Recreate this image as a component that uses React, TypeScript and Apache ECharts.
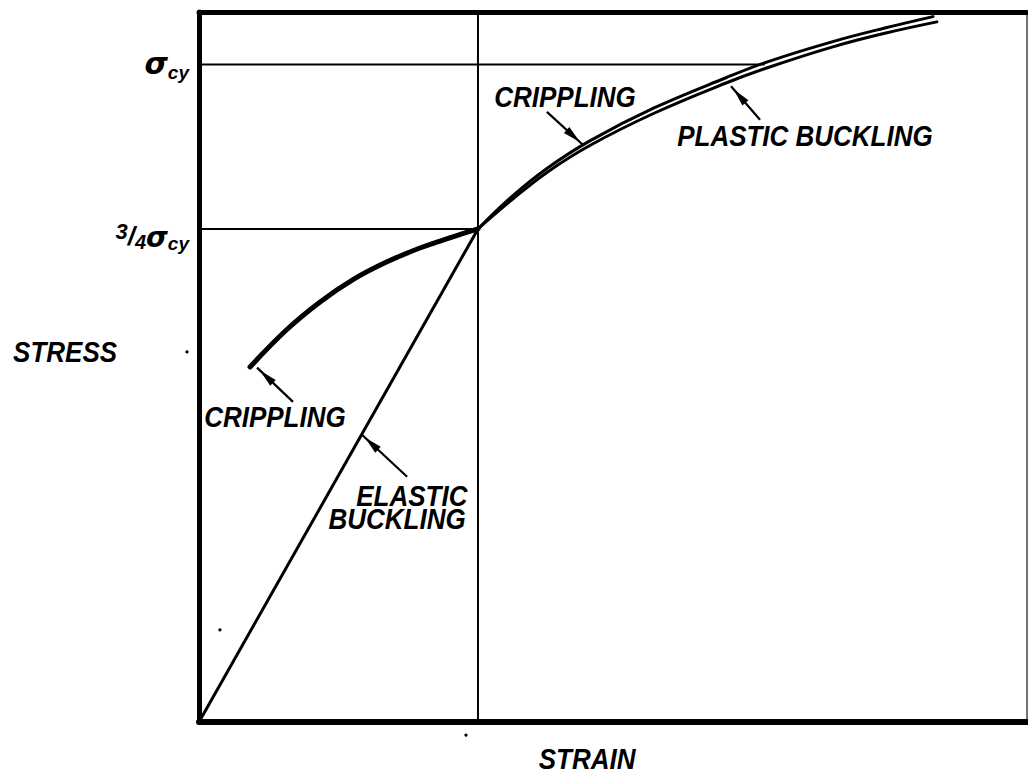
import React, { useEffect, useRef } from "react";
import * as echarts from "echarts";

// Strain in units of the strain at 3/4 sigma_cy; stress in units of sigma_cy
const strainRange = [0, 2.968];
const stressRange = [0, 1.08];

const elasticBuckling: number[][] = [
  [0, 0],
  [1, 0.75],
];
const cripplingLow: number[][] = [
  [0.183, 0.54],
  [0.315, 0.597],
  [0.434, 0.639],
  [0.552, 0.673],
  [0.674, 0.7],
  [0.792, 0.721],
  [0.91, 0.738],
  [1, 0.75],
];
const cripplingHigh: number[][] = [
  [1, 0.75],
  [1.118, 0.798],
  [1.247, 0.842],
  [1.401, 0.884],
  [1.631, 0.934],
  [1.889, 0.98],
  [2.043, 1.005],
  [2.272, 1.035],
  [2.462, 1.056],
  [2.631, 1.073],
];
const plasticBuckling: number[][] = [
  [1, 0.75],
  [1.118, 0.793],
  [1.247, 0.836],
  [1.401, 0.877],
  [1.631, 0.926],
  [1.889, 0.972],
  [2.043, 0.996],
  [2.272, 1.027],
  [2.462, 1.048],
  [2.645, 1.065],
];
const sigmaCyLine: number[][] = [
  [0, 1],
  [2.025, 1],
];
const threeQuarterLine: number[][] = [
  [0, 0.75],
  [1, 0.75],
];
const strainMarker: number[][] = [
  [1, 0],
  [1, 1.08],
];

const stressTickValues = [0.75, 1];

const leaders = [
  { from: [0.337, 0.487], to: [0.208, 0.539] },
  { from: [0.746, 0.373], to: [0.584, 0.437] },
  { from: [1.247, 0.928], to: [1.376, 0.878] },
  { from: [2.011, 0.916], to: [1.907, 0.967] },
];

const annotations = [
  { text: "CRIPPLING", at: [1.312, 0.951] },
  { text: "PLASTIC BUCKLING", at: [2.172, 0.892] },
  { text: "CRIPPLING", at: [0.272, 0.464] },
  { text: "ELASTIC", at: [0.763, 0.344] },
  { text: "BUCKLING", at: [0.71, 0.309] },
];

const axisTitles = [
  { text: "STRESS", at: [-0.48, 0.563] },
  { text: "STRAIN", at: [1.391, -0.056] },
];

const specks: number[][] = [
  [-0.043, 0.563],
  [0.957, -0.02],
  [0.075, 0.14],
];

const FONT = "'Liberation Sans', Arial, sans-serif";

const richBase = {
  fontFamily: FONT,
  fontWeight: "bold",
  fontStyle: "italic",
  color: "#000",
};

export default function App() {
  const ref = useRef<HTMLDivElement>(null);
  useEffect(() => {
    const chart = echarts.init(ref.current!, null, { renderer: "svg" });
    const lineSeries = (data: number[][], width: number, smooth: boolean | number = false) => ({
      type: "line",
      data,
      smooth,
      showSymbol: false,
      symbol: "none",
      silent: true,
      clip: false,
      lineStyle: { color: "#000", width, cap: "round", join: "round" },
    });
    chart.setOption({
      animation: false,
      backgroundColor: "#fff",
      grid: { left: 199, top: 12, right: 1, bottom: 54, containLabel: false },
      xAxis: [
        {
          type: "value",
          min: strainRange[0],
          max: strainRange[1],
          position: "bottom",
          axisLine: { show: true, onZero: false, lineStyle: { color: "#000", width: 6 } },
          axisTick: { show: false },
          axisLabel: { show: false },
          splitLine: { show: false },
        },
        {
          type: "value",
          min: strainRange[0],
          max: strainRange[1],
          position: "top",
          axisLine: { show: true, onZero: false, lineStyle: { color: "#000", width: 5 } },
          axisTick: { show: false },
          axisLabel: { show: false },
          splitLine: { show: false },
        },
      ],
      yAxis: [
        {
          type: "value",
          min: stressRange[0],
          max: stressRange[1],
          interval: 0.25,
          position: "left",
          axisLine: { show: true, onZero: false, lineStyle: { color: "#000", width: 5 } },
          axisTick: { show: false },
          splitLine: { show: false },
          axisLabel: {
            show: true,
            margin: 10,
            showMaxLabel: false,
            formatter: (v: number) => {
              if (Math.abs(v - stressTickValues[1]) < 1e-6) return "{s|σ}{sub|cy}";
              if (Math.abs(v - stressTickValues[0]) < 1e-6)
                return "{sup|3}{sl|/}{dn|4}{s2|σ}{sub2|cy}";
              return "";
            },
            rich: {
              s: {
                ...richBase,
                fontSize: 30,
                fontFamily: "'DejaVu Sans', sans-serif",
                padding: [0, 0, 2, 0],
              },
              sub: { ...richBase, fontSize: 19, padding: [16, 0, 0, 0] },
              sup: { ...richBase, fontSize: 22, padding: [6, 0, 0, 0] },
              sl: { ...richBase, fontSize: 26, padding: [14, 0, 0, 0] },
              dn: { ...richBase, fontSize: 20, padding: [26, 0, 0, 0] },
              s2: {
                ...richBase,
                fontSize: 28,
                fontFamily: "'DejaVu Sans', sans-serif",
                padding: [18, 0, 0, 0],
              },
              sub2: { ...richBase, fontSize: 19, padding: [30, 0, 0, 0] },
            },
          },
        },
        {
          type: "value",
          min: stressRange[0],
          max: stressRange[1],
          position: "right",
          axisLine: { show: true, onZero: false, lineStyle: { color: "#444", width: 1.5 } },
          axisTick: { show: false },
          axisLabel: { show: false },
          splitLine: { show: false },
        },
      ],
      series: [
        lineSeries(sigmaCyLine, 2),
        lineSeries(threeQuarterLine, 2),
        lineSeries(strainMarker, 2),
        lineSeries(elasticBuckling, 3),
        lineSeries(cripplingLow, 5, 0.4),
        lineSeries(cripplingHigh, 3, 0.4),
        lineSeries(plasticBuckling, 3, 0.4),
      ],
    });

    const px = (p: number[]) => chart.convertToPixel({ gridIndex: 0 }, p) as number[];
    const graphics: any[] = [];
    leaders.forEach((l) => {
      const a = px(l.from);
      const b = px(l.to);
      const dx = a[0] - b[0];
      const dy = a[1] - b[1];
      const len = Math.hypot(dx, dy);
      const ux = dx / len;
      const uy = dy / len;
      const nx = -uy;
      const ny = ux;
      graphics.push({
        type: "line",
        shape: { x1: a[0], y1: a[1], x2: b[0], y2: b[1] },
        style: { stroke: "#000", lineWidth: 2.2 },
        silent: true,
      });
      const tip = [b[0] + ux * 4, b[1] + uy * 4];
      const base = [b[0] + ux * 22, b[1] + uy * 22];
      const w = 4;
      graphics.push({
        type: "polygon",
        shape: {
          points: [tip, [base[0] + nx * w, base[1] + ny * w], [base[0] - nx * w, base[1] - ny * w]],
        },
        style: { fill: "#000" },
        silent: true,
      });
    });
    const textEl = (t: { text: string; at: number[] }) => {
      const p = px(t.at);
      return {
        type: "text",
        x: p[0],
        y: p[1],
        scaleY: 1.15,
        silent: true,
        style: {
          text: t.text,
          fontSize: 26,
          fontFamily: FONT,
          fontWeight: "bold",
          fontStyle: "italic",
          fill: "#000",
          align: "center",
          verticalAlign: "middle",
        },
      };
    };
    annotations.forEach((t) => graphics.push(textEl(t)));
    axisTitles.forEach((t) => graphics.push(textEl(t)));
    specks.forEach((s) => {
      const p = px(s);
      graphics.push({ type: "circle", shape: { cx: p[0], cy: p[1], r: 1.6 }, style: { fill: "#000" }, silent: true });
    });
    chart.setOption({ graphic: graphics });
    return () => chart.dispose();
  }, []);
  return <div ref={ref} style={{ position: "fixed", left: 0, top: 0, width: 1028, height: 776 }} />;
}
